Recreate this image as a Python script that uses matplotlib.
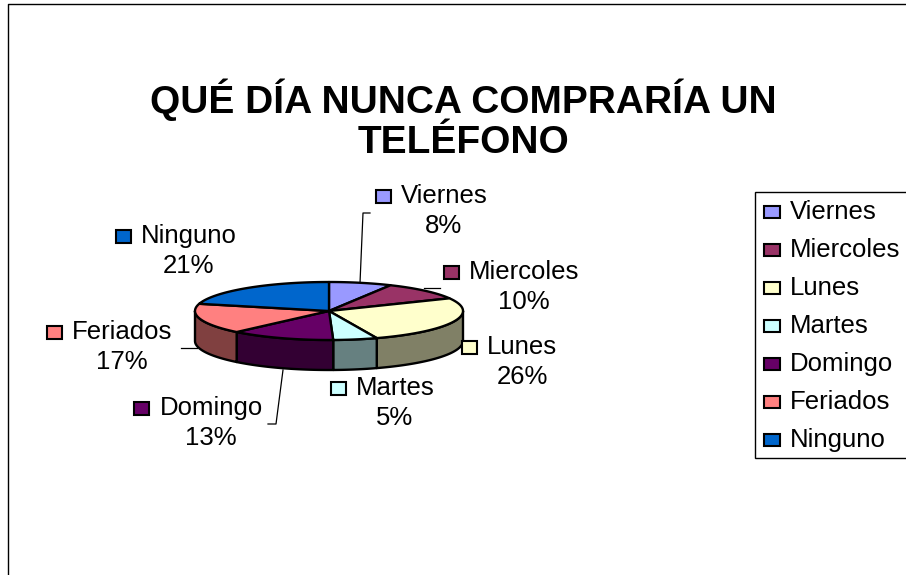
import numpy as np
import matplotlib
matplotlib.use('Agg')
import matplotlib.pyplot as plt
from matplotlib.patches import Polygon, Rectangle

plt.rcParams['font.family'] = ['Liberation Sans', 'DejaVu Sans']

# data, slice sizes, labels show them rounded
categories = ['Viernes', 'Miercoles', 'Lunes', 'Martes', 'Domingo', 'Feriados', 'Ninguno']
percents = [7.6, 10.2, 26.4, 5.3, 12.6, 16.9, 21.0]
title = 'QUÉ DÍA NUNCA COMPRARÍA UN\nTELÉFONO'

# styles
top_colors = ['#9999FF', '#993366', '#FFFFCC', '#CCFFFF', '#660066', '#FF8080', '#0066CC']

# layout, in pixels of the picture
cx, cy, rx, ry, depth = 329, 311, 134, 29, 30
label_pos = [(444, 210), (524, 286), (522, 361), (395, 402), (211, 422), (122, 346), (189, 250)]
leaders = [[(370, 213), (363, 213), (360, 283)],
           [(440, 288), (424, 288)],
           [(181, 348), (197, 348)],
           [(268, 424), (276, 424), (283, 370)]]
legend_y = [211, 249, 287, 325, 363, 401, 439]


def rim(a0, a1, drop=0):
    # angles in degrees, clockwise from the top of the pie
    t = np.radians(np.linspace(a0, a1, max(int(abs(a1 - a0)) * 2, 2)))
    return np.column_stack([cx + rx * np.sin(t), cy - ry * np.cos(t) + drop])


def marker(ax, x, y, color, w=15, h=13):
    ax.add_patch(Rectangle((x, y - h / 2), w, h, fc=color, ec='black', lw=1.5, zorder=5))


fig = plt.figure(figsize=(9.06, 5.75), dpi=100)
ax = fig.add_axes([0, 0, 1, 1])
ax.set_xlim(0, 906)
ax.set_ylim(575, 0)
ax.axis('off')

# chart frame, runs off the picture on the right and at the bottom
ax.plot([8, 8, 910], [580, 4, 4], color='black', lw=1)

ax.text(463, 120, title, ha='center', va='center', fontsize=28, fontweight='bold', linespacing=1.15)

edges = np.cumsum([0] + percents) / sum(percents) * 360

# side wall of the pie, only the front half shows
for i, color in enumerate(top_colors):
    a0, a1 = max(edges[i], 90), min(edges[i + 1], 270)
    if a1 <= a0:
        continue
    rgb = np.array(matplotlib.colors.to_rgb(color)) * 0.5
    pts = np.vstack([rim(a0, a1), rim(a1, a0, depth)])
    ax.add_patch(Polygon(pts, fc=rgb, ec='black', lw=1.7, joinstyle='round', zorder=2))

# top face
for i, color in enumerate(top_colors):
    pts = np.vstack([[(cx, cy)], rim(edges[i], edges[i + 1])])
    ax.add_patch(Polygon(pts, fc=color, ec='black', lw=1.7, joinstyle='round', zorder=3))

for line in leaders:
    xs, ys = zip(*line)
    ax.plot(xs, ys, color='black', lw=0.9, zorder=1)

# data labels with their little colour key
for name, pct, color, (x, y) in zip(categories, percents, top_colors, label_pos):
    t = ax.text(x, y - 14, name, ha='center', va='center', fontsize=18.5, color='black')
    ax.text(x, y + 16, f'{pct:.0f}%', ha='center', va='center', fontsize=18.5, color='black')
    fig.canvas.draw()
    box = t.get_window_extent()
    marker(ax, box.x0 - 25, y - 14, color)

# legend
ax.add_patch(Rectangle((755, 192), 160, 266, fc='white', ec='black', lw=1, zorder=4))
for name, color, y in zip(categories, top_colors, legend_y):
    marker(ax, 764, y + 1, color, w=16, h=12)
    ax.text(790, y + 1, name, ha='left', va='center', fontsize=18.5, color='black', zorder=5)

fig.savefig('out.png', dpi=100)
